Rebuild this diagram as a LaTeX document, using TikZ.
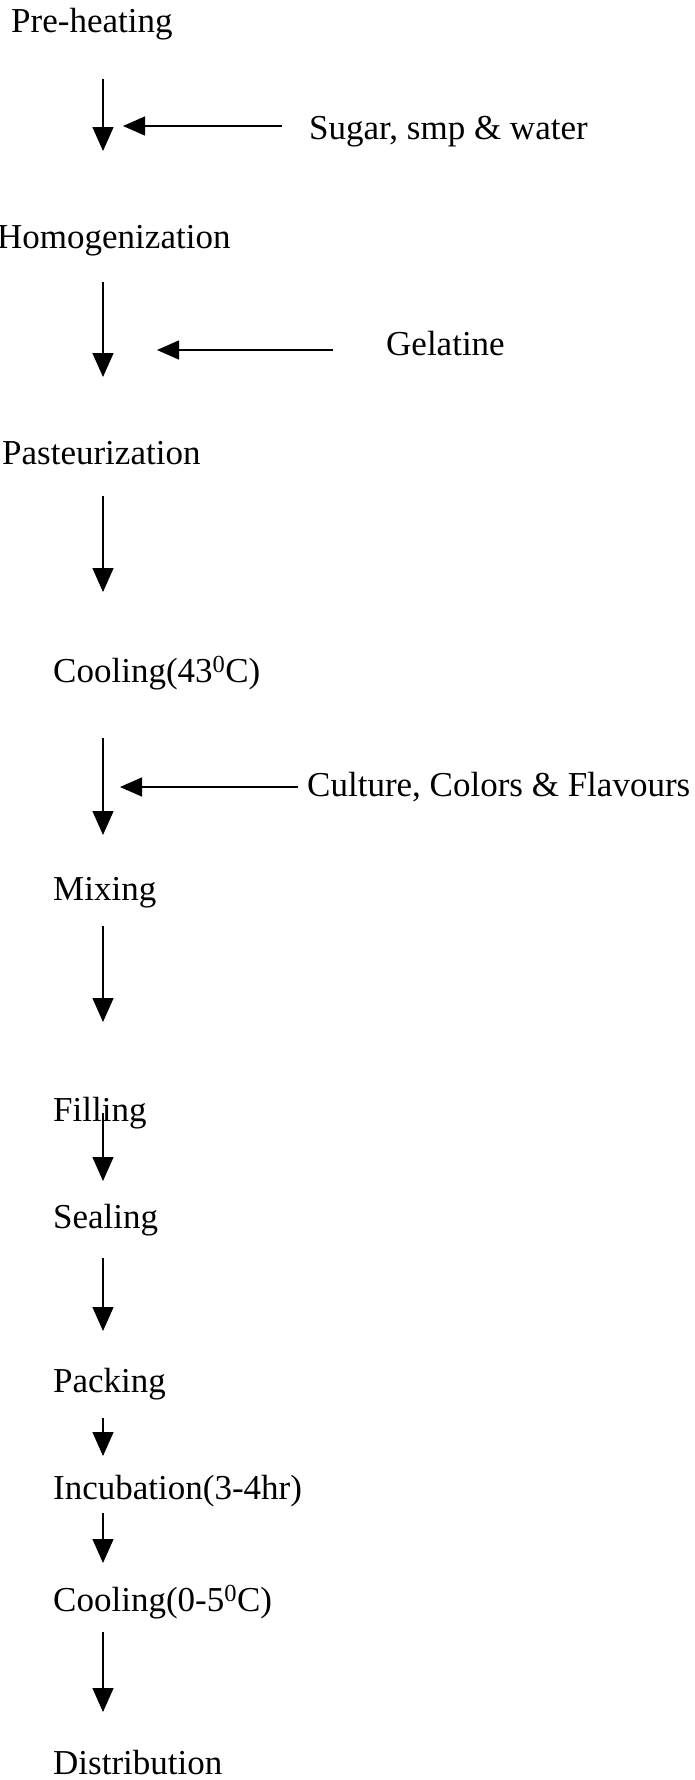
\documentclass[tikz,border=0pt]{standalone}
\usepackage{fontspec}
\setmainfont{Liberation Serif}
\usetikzlibrary{arrows.meta}
\begin{document}
\begin{tikzpicture}[x=1pt,y=1pt,
  lbl/.style={anchor=base west,inner sep=0pt,font=\fontsize{35}{42}\selectfont},
  flow/.style={line width=1.4pt,-{Triangle[length=24pt,width=21pt]}},
  feed/.style={line width=1.4pt,-{Triangle[length=22pt,width=19pt]}}]
\useasboundingbox (0,0) rectangle (695,-1780);
% process steps
\node[lbl] (pre)  at (11,-32)   {Pre-heating};
\node[lbl] (hom)  at (-3,-248)  {Homogenization};
\node[lbl] (pas)  at (2,-464)   {Pasteurization};
\node[lbl] (c43)  at (53,-682)  {Cooling(43\textsuperscript{0}C)};
\node[lbl] (mix)  at (53,-900)  {Mixing};
\node[lbl] (fil)  at (53,-1121) {Filling};
\node[lbl] (sea)  at (53,-1228) {Sealing};
\node[lbl] (pac)  at (53,-1392) {Packing};
\node[lbl] (inc)  at (53,-1499) {Incubation(3-4hr)};
\node[lbl] (c05)  at (53,-1611) {Cooling(0-5\textsuperscript{0}C)};
\node[lbl] (dis)  at (53,-1774) {Distribution};
% additions
\node[lbl] (sug)  at (309,-139) {Sugar, smp \& water};
\node[lbl] (gel)  at (386,-355) {Gelatine};
\node[lbl] (cul)  at (307,-796) {Culture, Colors \& Flavours};
% arrow end points
\coordinate (a1s) at (103,-79);   \coordinate (a1e) at (103,-151);
\coordinate (a2s) at (103,-282);  \coordinate (a2e) at (103,-377);
\coordinate (a3s) at (103,-496);  \coordinate (a3e) at (103,-592);
\coordinate (a4s) at (103,-738);  \coordinate (a4e) at (103,-835);
\coordinate (a5s) at (103,-926);  \coordinate (a5e) at (103,-1022);
\coordinate (a6s) at (103,-1113); \coordinate (a6e) at (103,-1181);
\coordinate (a7s) at (103,-1258); \coordinate (a7e) at (103,-1331);
\coordinate (a8s) at (103,-1418); \coordinate (a8e) at (103,-1456);
\coordinate (a9s) at (103,-1513); \coordinate (a9e) at (103,-1563);
\coordinate (a10s) at (103,-1632); \coordinate (a10e) at (103,-1712);
\coordinate (h1s) at (282,-126); \coordinate (h1e) at (123,-126);
\coordinate (h2s) at (333,-350); \coordinate (h2e) at (157,-350);
\coordinate (h3s) at (298,-787); \coordinate (h3e) at (120,-787);
% main flow
\draw[flow] (a1s) -- (a1e);
\draw[flow] (a2s) -- (a2e);
\draw[flow] (a3s) -- (a3e);
\draw[flow] (a4s) -- (a4e);
\draw[flow] (a5s) -- (a5e);
\draw[flow] (a6s) -- (a6e);
\draw[flow] (a7s) -- (a7e);
\draw[flow] (a8s) -- (a8e);
\draw[flow] (a9s) -- (a9e);
\draw[flow] (a10s) -- (a10e);
% feeds
\draw[feed] (h1s) -- (h1e);
\draw[feed] (h2s) -- (h2e);
\draw[feed] (h3s) -- (h3e);
\end{tikzpicture}
\end{document}
